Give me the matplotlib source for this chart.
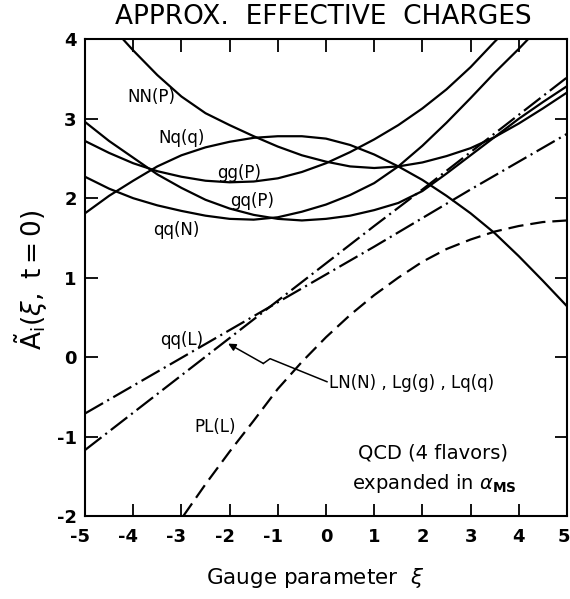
import matplotlib
matplotlib.use('Agg')
import matplotlib.pyplot as plt
from matplotlib.transforms import ScaledTranslation

plt.rcParams['font.family'] = ['DejaVu Sans']
plt.rcParams['mathtext.fontset'] = 'dejavusans'
plt.rcParams['lines.scale_dashes'] = False

# ---------------- data ----------------
xi_NN = [-4.21, -4.0, -3.5, -3.0, -2.5, -2.0, -1.5, -1.0, -0.5, 0.0, 0.5, 1.0, 1.5, 2.0, 2.5, 3.0, 3.5, 4.0, 4.5, 5.0]
A_NN  = [4.00, 3.86, 3.55, 3.28, 3.07, 2.92, 2.78, 2.65, 2.54, 2.46, 2.40, 2.38, 2.40, 2.45, 2.53, 2.63, 2.77, 2.94, 3.13, 3.33]

xi_Nq = [-5.0, -4.5, -4.0, -3.5, -3.0, -2.5, -2.0, -1.5, -1.0, -0.5, 0.0, 0.5, 1.0, 1.5, 2.0, 2.5, 3.0, 3.5, 4.0, 4.5, 5.0]
A_Nq  = [1.81, 2.03, 2.22, 2.40, 2.54, 2.64, 2.71, 2.76, 2.78, 2.78, 2.75, 2.67, 2.55, 2.40, 2.23, 2.03, 1.81, 1.56, 1.27, 0.96, 0.64]

xi_gg = [-5.0, -4.5, -4.0, -3.5, -3.0, -2.5, -2.0, -1.5, -1.0, -0.5, 0.0, 0.5, 1.0, 1.5, 2.0, 2.5, 3.0, 3.5, 3.55]
A_gg  = [2.72, 2.57, 2.44, 2.34, 2.27, 2.22, 2.20, 2.21, 2.25, 2.33, 2.44, 2.58, 2.74, 2.92, 3.13, 3.37, 3.65, 3.97, 4.00]

xi_gq = [-5.0, -4.5, -4.0, -3.5, -3.0, -2.5, -2.0, -1.5, -1.0, -0.5, 0.0, 0.5, 1.0, 1.5, 2.0, 2.5, 3.0, 3.5, 4.0, 4.5, 5.0]
A_gq  = [2.96, 2.72, 2.51, 2.30, 2.13, 1.98, 1.87, 1.79, 1.74, 1.72, 1.74, 1.78, 1.85, 1.94, 2.09, 2.31, 2.54, 2.77, 3.00, 3.21, 3.41]

xi_qqN = [-5.0, -4.5, -4.0, -3.5, -3.0, -2.5, -2.0, -1.5, -1.0, -0.5, 0.0, 0.5, 1.0, 1.5, 2.0, 2.5, 3.0, 3.5, 4.0, 4.19]
A_qqN  = [2.27, 2.12, 2.00, 1.91, 1.84, 1.78, 1.74, 1.73, 1.76, 1.83, 1.92, 2.04, 2.19, 2.40, 2.66, 2.95, 3.26, 3.58, 3.88, 4.00]

xi_qqL = [-5.0, -4.0, -3.0, -2.0, -1.0, 0.0, 1.0, 2.0, 3.0, 4.0, 5.0]
A_qqL  = [-0.71, -0.36, -0.01, 0.34, 0.69, 1.04, 1.39, 1.75, 2.11, 2.46, 2.81]

xi_LN = [-5.0, -4.0, -3.0, -2.0, -1.0, 0.0, 1.0, 2.0, 3.0, 4.0, 5.0]
A_LN  = [-1.17, -0.70, -0.23, 0.24, 0.71, 1.18, 1.65, 2.11, 2.58, 3.05, 3.52]

xi_PL = [-2.96, -2.5, -2.0, -1.5, -1.0, -0.5, 0.0, 0.5, 1.0, 1.5, 2.0, 2.5, 3.0, 3.5, 4.0, 4.5, 5.0]
A_PL  = [-2.00, -1.60, -1.19, -0.80, -0.40, -0.06, 0.25, 0.53, 0.78, 1.00, 1.20, 1.36, 1.48, 1.58, 1.65, 1.70, 1.72]

x_ticks = [-5, -4, -3, -2, -1, 0, 1, 2, 3, 4, 5]
y_ticks = [-2, -1, 0, 1, 2, 3, 4]

# ---------------- figure ----------------
fig = plt.figure(figsize=(5.70, 5.99), dpi=100)
ax = fig.add_axes([85/570, 1-516/599, 482/570, (516-39.3)/599])

lw = 1.6
for xs, ys in [(xi_NN, A_NN), (xi_Nq, A_Nq), (xi_gg, A_gg), (xi_gq, A_gq), (xi_qqN, A_qqN)]:
    ax.plot(xs, ys, color='black', lw=lw, solid_joinstyle='round')

ax.plot(xi_qqL, A_qqL, color='black', lw=lw, dashes=(15, 3.5, 1.5, 3.5))
ax.plot(xi_LN, A_LN, color='black', lw=lw, dashes=(15, 3.5, 1.5, 3.5))
ax.plot(xi_PL, A_PL, color='black', lw=lw, dashes=(11, 5))

ax.set_xlim(-5, 5)
ax.set_ylim(-2, 4)
ax.set_xticks(x_ticks)
ax.set_yticks(y_ticks)
ax.set_xticklabels([str(v) if v >= 0 else '-' + str(-v) for v in x_ticks])
ax.set_yticklabels([str(v) if v >= 0 else '-' + str(-v) for v in y_ticks])
ax.tick_params(direction='in', length=9, width=1.3, top=True, right=True,
               labelsize=13)
ax.tick_params(axis='x', pad=9)
ax.tick_params(axis='y', pad=6)
for lab in ax.get_xticklabels() + ax.get_yticklabels():
    lab.set_fontweight('bold')
# digits centred on ticks, minus sign hanging to the left
for v, lab in zip(x_ticks, ax.get_xticklabels()):
    if v < 0:
        lab.set_transform(lab.get_transform() + ScaledTranslation(-5/100, 0, fig.dpi_scale_trans))
    if v == 5:
        lab.set_transform(lab.get_transform() + ScaledTranslation(-3/100, 0, fig.dpi_scale_trans))
for sp in ax.spines.values():
    sp.set_linewidth(1.5)

# curve labels
lab_fs = 12
ax.text(-3.63, 3.27, 'NN(P)', fontsize=lab_fs, ha='center', va='center')
ax.text(-2.99, 2.76, 'Nq(q)', fontsize=lab_fs, ha='center', va='center')
ax.text(-1.80, 2.32, 'gg(P)', fontsize=lab_fs, ha='center', va='center')
ax.text(-1.54, 1.96, 'gq(P)', fontsize=lab_fs, ha='center', va='center')
ax.text(-3.11, 1.60, 'qq(N)', fontsize=lab_fs, ha='center', va='center')
ax.text(-2.99, 0.22, 'qq(L)', fontsize=lab_fs, ha='center', va='center')
ax.text(-2.30, -0.88, 'PL(L)', fontsize=lab_fs, ha='center', va='center')
ax.text(0.06, -0.33, 'LN(N) , Lg(g) , Lq(q)', fontsize=lab_fs, ha='left', va='center')

# arrow with a kink
ax.plot([0.02, -1.16, -1.30], [-0.31, -0.02, -0.08], color='black', lw=1.1)
ax.annotate('', xy=(-2.03, 0.17), xytext=(-1.30, -0.08),
            arrowprops=dict(arrowstyle='-|>', lw=1.1, color='black',
                            mutation_scale=11, shrinkA=0, shrinkB=0))

ax.text(2.22, -1.21, 'QCD (4 flavors)', fontsize=14, ha='center', va='center')
ax.text(2.24, -1.59, r'expanded in $\alpha_{\mathbf{MS}}$', fontsize=14, ha='center', va='center')

fig.text(0.568, 1-17/599, 'APPROX.  EFFECTIVE  CHARGES', fontsize=19, ha='center', va='center')
fig.text(315/570, 1-578/599, r'Gauge parameter  $\xi$', fontsize=15.5, ha='center', va='center')
fig.text(31/570, 1-280/599, r'$\tilde{\mathrm{A}}_{\mathrm{i}}(\xi,\ \mathrm{t=0})$', fontsize=19,
         ha='center', va='center', rotation=90)

fig.savefig('out.png', dpi=100)
